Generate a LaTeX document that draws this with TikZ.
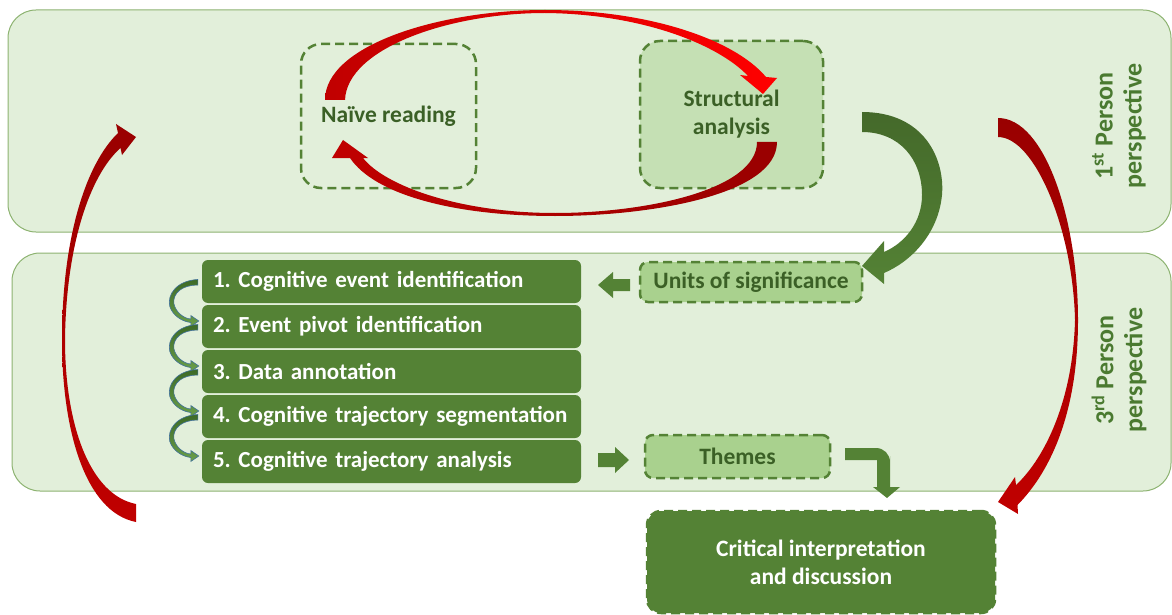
\documentclass[tikz,border=0pt]{standalone}
\usepackage{fontspec}
\setmainfont{Carlito}
\usetikzlibrary{calc}
\frenchspacing

\definecolor{panelfill}{HTML}{E2EFDA}
\definecolor{panelline}{HTML}{8DB371}
\definecolor{boxgreen}{HTML}{548235}
\definecolor{paleboxfill}{HTML}{C5E0B4}
\definecolor{softboxfill}{HTML}{A9D18E}
\definecolor{labelgreen}{HTML}{3B6026}
\definecolor{sidegreen}{HTML}{4A7A30}
\definecolor{redbright}{HTML}{FF0000}
\definecolor{redmid}{HTML}{C00000}
\definecolor{reddark}{HTML}{990000}
\definecolor{arrowdark}{HTML}{44692A}
\definecolor{loopblue}{HTML}{41719C}
\definecolor{loopdark}{HTML}{3D6A27}
\definecolor{looplight}{HTML}{6A9F4A}

\begin{document}
\begin{tikzpicture}[x=1pt,y=-1pt,
  panel/.style={draw=panelline, line width=1pt, fill=panelfill, rounded corners=28pt},
  dashbox/.style={draw=boxgreen, dash pattern=on 9pt off 5pt, line width=2.5pt,
    rounded corners=#1, font=\bfseries\fontsize{23.5}{28}\selectfont,
    text=labelgreen, align=center},
  dashbox/.default=20pt,
  stepbox/.style={fill=boxgreen, rounded corners=6pt, text=white,
    font=\bfseries\fontsize{23}{27}\selectfont, minimum height=43pt,
    text width=357pt, inner xsep=11pt, align=left},
  sidelabel/.style={rotate=90, text=sidegreen, align=center,
    font=\bfseries\fontsize{26}{29}\selectfont},
  blockarrow/.style={fill=boxgreen},
  looparrow/.style={top color=loopdark, bottom color=looplight, draw=loopblue, line width=0.6pt}
]
\useasboundingbox (0,0) rectangle (1172,615);

% perspective panels
\node[panel, minimum width=1163pt, minimum height=222pt] (first) at (589.5,121) {};
\node[panel, minimum width=1159pt, minimum height=238pt] (third) at (591.5,372) {};

\node[sidelabel] (firstlabel) at (1119,126) {1\textsuperscript{st} Person\\perspective};
\node[sidelabel] (thirdlabel) at (1119,370) {3\textsuperscript{rd} Person\\perspective};

% first person stage
\node[dashbox, minimum width=175pt, minimum height=144pt] (naive) at (388.5,116) {Naïve reading};
\node[dashbox, fill=paleboxfill, minimum width=183pt, minimum height=147pt] (struct) at (731.5,114.5) {Structural\\analysis};

% third person stage
\node[dashbox=8pt, fill=softboxfill, minimum width=222pt, minimum height=40pt, inner sep=0pt] (units) at (751,282) {Units of significance};
\node[dashbox=8pt, fill=softboxfill, minimum width=185pt, minimum height=43pt, inner sep=0pt] (themes) at (737.5,456.5) {Themes};

\node[stepbox] (s1) at (391.5,281.5) {1. Cognitive event identification};
\node[stepbox] (s2) at (391.5,326.5) {2. Event pivot identification};
\node[stepbox] (s3) at (391.5,371.5) {3. Data annotation};
\node[stepbox] (s4) at (391.5,416.5) {4. Cognitive trajectory segmentation};
\node[stepbox] (s5) at (391.5,461.5) {5. Cognitive trajectory analysis};

\node[dashbox=14pt, fill=boxgreen, text=white, minimum width=348pt, minimum height=102pt] (critical) at (821,562) {Critical interpretation\\and discussion};

% curved step-to-step arrows
\foreach \i in {1,2,3,4}{
  \begin{scope}[shift={(s\i.west)}]
    \shade[looparrow] (-4,-2) .. controls (-25,-1) and (-35,13) .. (-32,25)
      .. controls (-29,34) and (-20,40) .. (-11,41) -- (-11,45) -- (-3,39.5)
      -- (-11,34) -- (-11,37.5) .. controls (-18,37) and (-26,31) .. (-28,22)
      .. controls (-29,11) and (-19,3.5) .. (-4,3.5) -- cycle;
  \end{scope}
}

% straight block arrows
\fill[blockarrow] (598,285) -- (613,272) -- (613,279) -- (630,279) -- (630,291)
  -- (613,291) -- (613,298) -- cycle;
\fill[blockarrow] (629,460) -- (615,447) -- (615,453) -- (598,453) -- (598,467)
  -- (615,467) -- (615,473) -- cycle;
\fill[blockarrow] (845,448) [rounded corners=14pt] -- (890,448) -- (890,470)
  [sharp corners] -- (890,487) -- (900,487) -- (887,498) -- (873,487)
  -- (877,487) -- (877,460) -- (845,460) -- cycle;

% structural analysis feeding the units of significance
\shade[top color=arrowdark, bottom color=boxgreen]
  (862,112) .. controls (925,112) and (945,160) .. (942,195)
  .. controls (938,235) and (910,262) .. (884,273) -- (884,284) -- (862,266)
  -- (884,241) -- (884,252) .. controls (905,243) and (922,222) .. (922,195)
  .. controls (922,160) and (900,132) .. (862,132) -- cycle;

% hermeneutic loop between the two readings
\shade[left color=redmid, right color=redbright]
  (325,100) .. controls (325,45) and (440,10) .. (545,10)
  .. controls (650,10) and (735,40) .. (766,77) -- (777,78) -- (763,94)
  -- (740,75) -- (748,76) .. controls (720,46) and (645,14) .. (545,13)
  .. controls (450,13) and (347,48) .. (345,100) -- cycle;
\shade[left color=redmid, right color=reddark]
  (777,142) .. controls (777,195) and (650,216) .. (555,216)
  .. controls (455,216) and (375,195) .. (350,158) -- (332,158) -- (343,140)
  -- (368,158) -- (363,158) .. controls (385,186) and (460,213) .. (555,213)
  .. controls (645,213) and (757,190) .. (757,142) -- cycle;

% return from discussion to the first person stage
\shade[top color=reddark, bottom color=redmid]
  (136,522) .. controls (85,512) and (62,430) .. (62,340)
  .. controls (62,240) and (85,165) .. (118,133) -- (116,124) -- (136,137)
  -- (122,155) -- (120.5,148) .. controls (90,175) and (66,245) .. (65,340)
  .. controls (65,425) and (90,495) .. (136,504) -- cycle;

% first person stage towards the discussion
\shade[top color=reddark, bottom color=redmid]
  (998,118) .. controls (1045,118) and (1078,220) .. (1078,320)
  .. controls (1078,410) and (1052,470) .. (1017.5,505) -- (1018,514) -- (998,502)
  -- (1015,477) -- (1016,485) .. controls (1045,458) and (1073,400) .. (1075,320)
  .. controls (1073,230) and (1035,137) .. (998,137) -- cycle;
\end{tikzpicture}
\end{document}
